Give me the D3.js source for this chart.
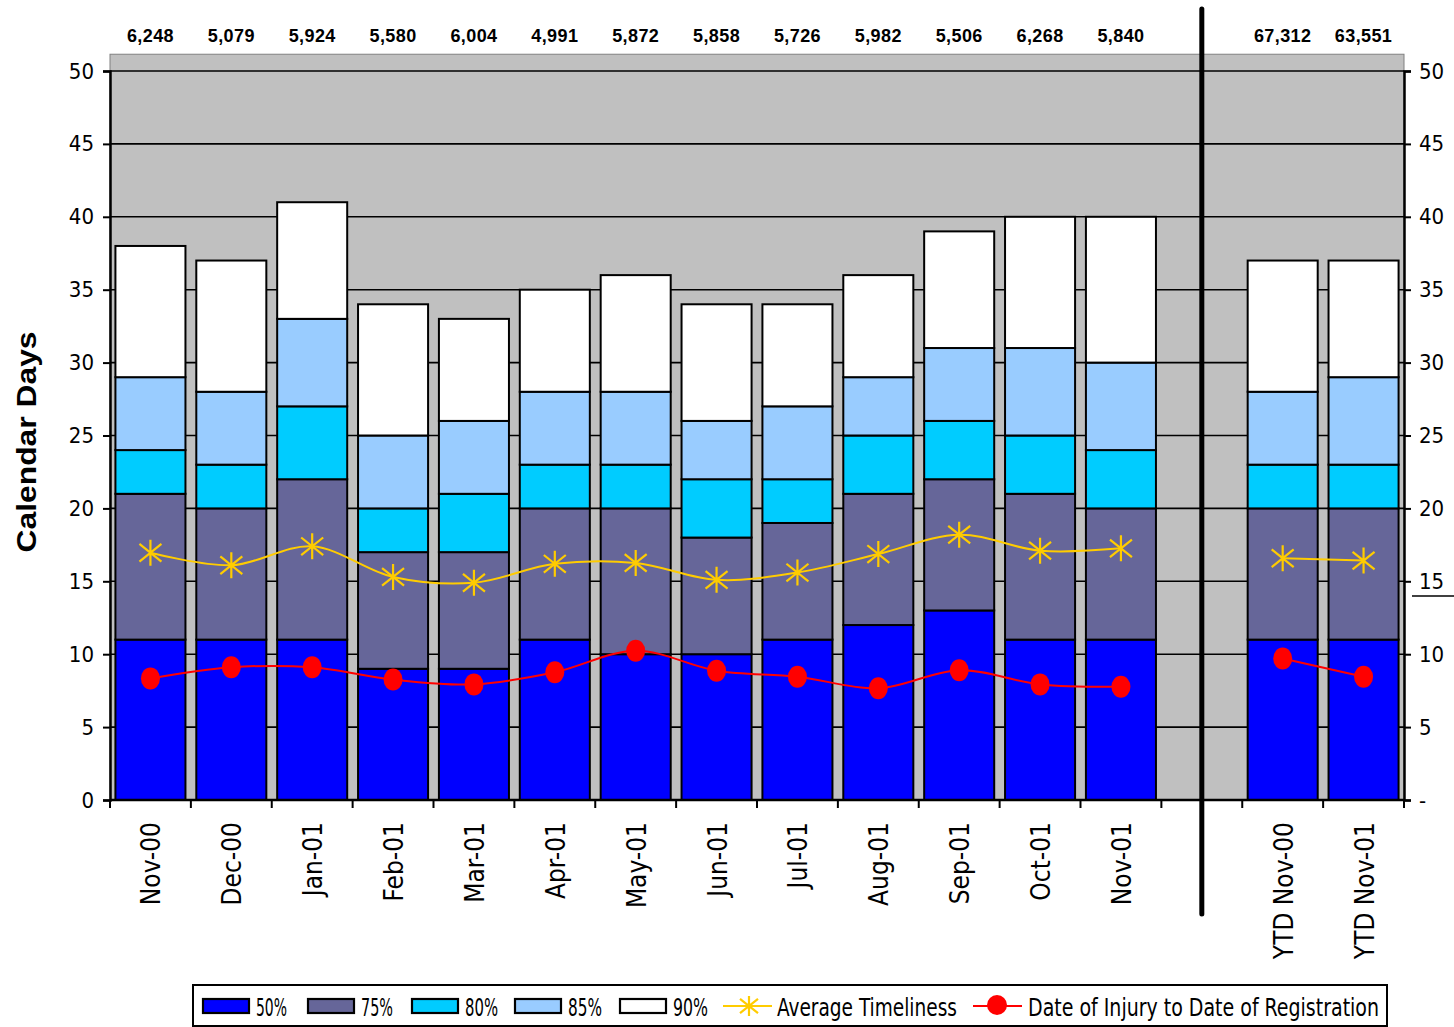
<!DOCTYPE html>
<html><head><meta charset="utf-8">
<script src="https://cdn.jsdelivr.net/npm/d3@7"></script>
<style>
body{margin:0;background:#fff;}
svg{display:block;}
.nar{font-family:"DejaVu Sans Condensed","Liberation Sans Narrow","Arial Narrow",sans-serif;}
</style></head>
<body>
<svg id="c" width="1454" height="1027"></svg>
<script>
// ---------- data ----------
const categories = ["Nov-00","Dec-00","Jan-01","Feb-01","Mar-01","Apr-01","May-01","Jun-01","Jul-01","Aug-01","Sep-01","Oct-01","Nov-01","","YTD Nov-00","YTD Nov-01"];
const counts = ["6,248","5,079","5,924","5,580","6,004","4,991","5,872","5,858","5,726","5,982","5,506","6,268","5,840","","67,312","63,551"];
// cumulative percentile values (days)
const p50 = [11,11,11,9,9,11,10,10,11,12,13,11,11,null,11,11];
const p75 = [21,20,22,17,17,20,20,18,19,21,22,21,20,null,20,20];
const p80 = [24,23,27,20,21,23,23,22,22,25,26,25,24,null,23,23];
const p85 = [29,28,33,25,26,28,28,26,27,29,31,31,30,null,28,29];
const p90 = [38,37,41,34,33,35,36,34,34,36,39,40,40,null,37,37];
const avgTimeliness = [16.96,16.1,17.4,15.3,14.9,16.2,16.26,15.1,15.6,16.87,18.2,17.1,17.26,null,16.58,16.42];
const injuryToReg = [8.34,9.1,9.1,8.26,7.93,8.76,10.24,8.87,8.46,7.66,8.9,7.93,7.77,null,9.7,8.45];
const seriesNames = ["50%","75%","80%","85%","90%"];
const seriesColors = ["#0000FF","#666699","#00CCFF","#99CCFF","#FFFFFF"];
const yTicks = [0,5,10,15,20,25,30,35,40,45,50];
const rightTickLabels = ["-","5","10","15","20","25","30","35","40","45","50"];

const stacks = [p50,p75,p80,p85,p90];

// ---------- layout ----------
const svg = d3.select("#c");
const L = 110, R = 1404;
const x = d3.scaleBand().domain(categories.map((c,i)=>i)).range([L,R]).paddingInner(0.134).paddingOuter(0.067);
const y = d3.scaleLinear().domain([0,50]).range([800,71]);
const step = x.step();
const cx = i => x(i)+x.bandwidth()/2;

// plot background
svg.append("rect").attr("x",L).attr("y",y(51.15)).attr("width",R-L).attr("height",y(0)-y(51.15))
  .attr("fill","#C0C0C0").attr("stroke","#808080").attr("stroke-width",1);

// gridlines
svg.append("g").selectAll("line").data(yTicks.filter(d=>d>0)).join("line")
  .attr("x1",L).attr("x2",R).attr("y1",d=>y(d)).attr("y2",d=>y(d))
  .attr("stroke","#000").attr("stroke-width",1.6);

// bars
const segs = [];
categories.forEach((c,i)=>{
  if(p50[i]==null) return;
  let prev = 0;
  stacks.forEach((s,k)=>{ segs.push({i,k,y0:prev,y1:s[i]}); prev = s[i]; });
});
svg.append("g").selectAll("rect").data(segs).join("rect")
  .attr("x",d=>x(d.i)).attr("width",x.bandwidth())
  .attr("y",d=>y(d.y1)).attr("height",d=>y(d.y0)-y(d.y1))
  .attr("fill",d=>seriesColors[d.k]).attr("stroke","#000").attr("stroke-width",2);

// axes
const axL = svg.append("g").attr("transform",`translate(${L},0)`)
  .call(d3.axisLeft(y).tickValues(yTicks).tickSize(7).tickPadding(9));
axL.select(".domain").attr("stroke-width",2.5);
axL.selectAll(".tick line").attr("stroke-width",2);
axL.selectAll("text").attr("class","nar").attr("font-size",22).attr("fill","#000");

const axR = svg.append("g").attr("transform",`translate(${R},0)`)
  .call(d3.axisRight(y).tickValues(yTicks).tickSize(7).tickPadding(8).tickFormat((d,i)=>rightTickLabels[i]));
axR.select(".domain").attr("stroke-width",2.5);
axR.selectAll(".tick line").attr("stroke-width",2);
axR.selectAll("text").attr("class","nar").attr("font-size",22).attr("fill","#000");
svg.append("line").attr("x1",1412).attr("x2",1454).attr("y1",y(14)).attr("y2",y(14)).attr("stroke","#000").attr("stroke-width",1.5);

// x axis line and ticks at band boundaries
svg.append("line").attr("x1",L).attr("x2",R).attr("y1",y(0)).attr("y2",y(0)).attr("stroke","#000").attr("stroke-width",2.5);
const bounds = d3.range(categories.length+1).map(i=>L + i*step);
svg.append("g").selectAll("line").data(bounds).join("line")
  .attr("x1",d=>d).attr("x2",d=>d).attr("y1",y(0)).attr("y2",y(0)+8)
  .attr("stroke","#000").attr("stroke-width",2);

// x labels (rotated)
svg.append("g").selectAll("text").data(categories).join("text")
  .attr("class","nar").attr("font-size",26).attr("fill","#000")
  .attr("text-anchor","end")
  .attr("transform",(d,i)=>`translate(${cx(i)+10},${y(0)+22}) rotate(-90)`)
  .text(d=>d);

// top counts
svg.append("g").selectAll("text").data(counts).join("text")
  .attr("x",(d,i)=>cx(i)).attr("y",42)
  .attr("text-anchor","middle").attr("font-family","Liberation Sans, Arial, sans-serif")
  .attr("font-weight","bold").attr("font-size",18).attr("letter-spacing",0.4).text(d=>d);

// y title
svg.append("text").attr("transform","translate(36,442) rotate(-90)")
  .attr("text-anchor","middle").attr("font-family","Liberation Sans, Arial, sans-serif")
  .attr("font-weight","bold").attr("font-size",27)
  .attr("textLength",221).attr("lengthAdjust","spacingAndGlyphs").text("Calendar Days");

// lines
const line = d3.line().defined(d=>d.v!=null).x(d=>cx(d.i)).y(d=>y(d.v)).curve(d3.curveCatmullRom.alpha(0.5));
const avgPts = avgTimeliness.map((v,i)=>({i,v}));
const injPts = injuryToReg.map((v,i)=>({i,v}));

function star(g, px, py, col, a, h){
  g.append("path").attr("d",`M${px},${py-h}L${px},${py+h}M${px-a},${py-a*0.8}L${px+a},${py+a*0.8}M${px-a},${py+a*0.8}L${px+a},${py-a*0.8}`)
   .attr("stroke",col).attr("stroke-width",2.2).attr("fill","none");
}

svg.append("path").datum(avgPts).attr("d",line).attr("fill","none").attr("stroke","#FFCC00").attr("stroke-width",2);
const starG = svg.append("g");
avgPts.filter(d=>d.v!=null).forEach(d=>star(starG, cx(d.i), y(d.v), "#FFCC00", 11, 13));

svg.append("path").datum(injPts).attr("d",line).attr("fill","none").attr("stroke","#FF0000").attr("stroke-width",2);
svg.append("g").selectAll("ellipse").data(injPts.filter(d=>d.v!=null)).join("ellipse")
  .attr("cx",d=>cx(d.i)).attr("cy",d=>y(d.v)).attr("rx",9.5).attr("ry",11)
  .attr("fill","#FF0000");

// separator
svg.append("line").attr("x1",cx(13)).attr("x2",cx(13)).attr("y1",9).attr("y2",914)
  .attr("stroke","#000").attr("stroke-width",5).attr("stroke-linecap","round");

// legend
const lg = svg.append("g");
lg.append("rect").attr("x",193).attr("y",985).attr("width",1194).attr("height",41).attr("fill","#fff").attr("stroke","#000").attr("stroke-width",2);
const swX = [203,308,412,515,620];
const txtW = [31,32,33,34,35];
seriesNames.forEach((n,k)=>{
  lg.append("rect").attr("x",swX[k]).attr("y",999).attr("width",46).attr("height",14).attr("fill",seriesColors[k]).attr("stroke","#000").attr("stroke-width",2.2);
  lg.append("text").attr("class","nar").attr("x",swX[k]+53).attr("y",1016).attr("font-size",24)
    .attr("textLength",txtW[k]).attr("lengthAdjust","spacingAndGlyphs").text(n);
});
lg.append("line").attr("x1",723).attr("x2",772).attr("y1",1006).attr("y2",1006).attr("stroke","#FFCC00").attr("stroke-width",2);
star(lg,749,1006,"#FFCC00",9,10);
lg.append("text").attr("class","nar").attr("x",777).attr("y",1016).attr("font-size",24)
  .attr("textLength",180).attr("lengthAdjust","spacingAndGlyphs").text("Average Timeliness");
lg.append("line").attr("x1",973).attr("x2",1022).attr("y1",1006).attr("y2",1006).attr("stroke","#FF0000").attr("stroke-width",2);
lg.append("ellipse").attr("cx",997).attr("cy",1005).attr("rx",10).attr("ry",10).attr("fill","#FF0000");
lg.append("text").attr("class","nar").attr("x",1028).attr("y",1016).attr("font-size",24)
  .attr("textLength",351).attr("lengthAdjust","spacingAndGlyphs").text("Date of Injury to Date of Registration");
</script>
</body></html>
